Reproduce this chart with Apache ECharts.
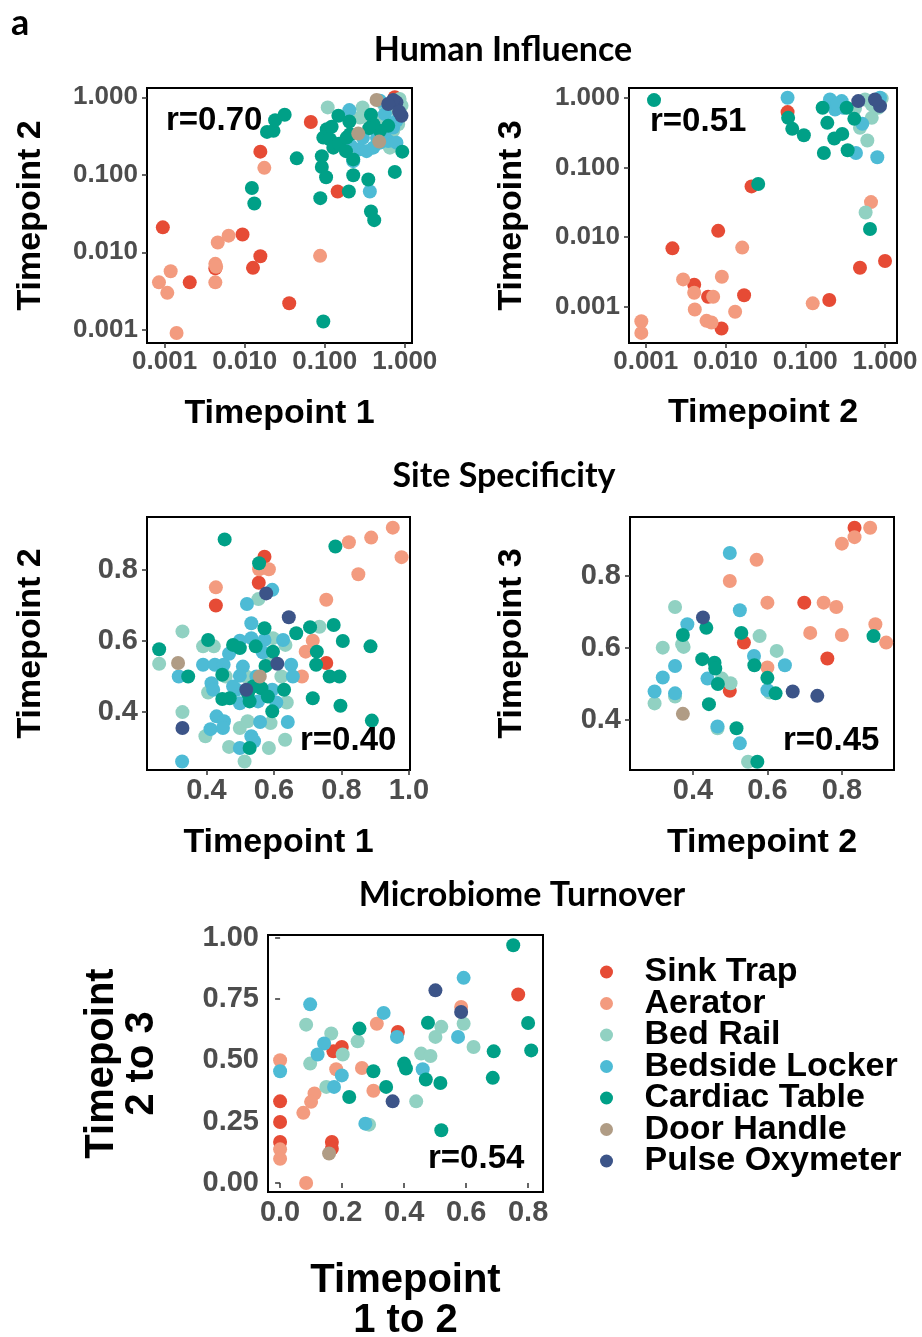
<!DOCTYPE html>
<html><head><meta charset="utf-8">
<script src="https://cdn.jsdelivr.net/npm/echarts@6/dist/echarts.min.js"></script>
<style>html,body{margin:0;padding:0;background:#fff}#chart{width:922px;height:1337px}</style>
</head><body><div id="chart"></div>
<script>
// ---------- DATA ----------
const groups = ['Sink Trap','Aerator','Bed Rail','Bedside Locker','Cardiac Table','Door Handle','Pulse Oxymeter'];
const groupColors = ['#E64B35','#F39B7F','#91D1C2','#4DBBD5','#00A087','#B09C85','#3C5488'];
const sectionTitles = ['Human Influence','Site Specificity','Microbiome Turnover'];
const xNames = ['Timepoint 1','Timepoint 2','Timepoint 1','Timepoint 2','Timepoint\n1 to 2'];
const yNames = ['Timepoint 2','Timepoint 3','Timepoint 2','Timepoint 3','Timepoint\n2 to 3'];
const rLabels = ['r=0.70','r=0.51','r=0.40','r=0.45','r=0.54'];
const logTicks = [0.001, 0.01, 0.1, 1];
const siteTicksX = [0.4, 0.6, 0.8, 1.0];
const siteTicksY = [0.4, 0.6, 0.8];
const turnoverTicksX = [0, 0.2, 0.4, 0.6, 0.8];
const turnoverTicksY = [0, 0.25, 0.5, 0.75, 1];

// Human Influence: Timepoint 1 vs Timepoint 2 (one list per group, in groups order)
const humanT1T2 = [
  [[0.00095,0.021],[0.00206,0.0041],[0.0043,0.0062],[0.0094,0.017],[0.0127,0.0063],[0.0157,0.0089],[0.036,0.0022],[0.145,0.061],[0.0157,0.199],[0.067,0.48],[0.75,1.0]],
  [[0.00119,0.0057],[0.00085,0.0041],[0.00108,0.0030],[0.00141,0.00091],[0.00461,0.0134],[0.0063,0.0164],[0.0043,0.0071],[0.0044,0.0065],[0.0043,0.0041],[0.0875,0.0090],[0.0176,0.123]],
  [[0.109,0.741],[0.297,0.741],[0.366,0.549],[0.466,0.523],[0.275,0.549],[0.716,0.369],[0.651,0.224],[0.910,0.779],[0.826,0.450],[0.55,0.8],[0.62,0.7],[0.86,0.95]],
  [[0.366,0.061],[0.227,0.150],[0.275,0.213],[0.213,0.235],[0.333,0.202],[0.404,0.224],[0.489,0.260],[0.621,0.273],[0.787,0.260],[0.203,0.684],[0.564,0.607],[0.716,0.407],[0.787,0.497],[0.489,0.905],[0.3,0.3],[0.45,0.3],[0.56,0.35],[0.68,0.45]],
  [[0.096,0.00128],[0.088,0.050],[0.0123,0.0676],[0.0132,0.0427],[0.0447,0.163],[0.019,0.358],[0.0229,0.369],[0.024,0.507],[0.0316,0.595],[0.092,0.174],[0.092,0.126],[0.104,0.093],[0.20,0.061],[0.227,0.0986],[0.35,0.087],[0.378,0.0336],[0.415,0.026],[0.75,0.109],[0.93,0.199],[0.106,0.388],[0.122,0.416],[0.096,0.302],[0.116,0.287],[0.128,0.224],[0.151,0.252],[0.188,0.302],[0.207,0.333],[0.184,0.202],[0.227,0.158],[0.148,0.578],[0.203,0.488],[0.378,0.595],[0.621,0.428],[0.489,0.369],[0.404,0.450],[0.36,0.4]],
  [[0.262,0.340],[0.479,0.268],[0.444,0.923]],
  [[0.910,0.578],[0.787,0.861],[0.716,0.923],[0.621,0.819],[0.85,0.65]]
];
// Human Influence: Timepoint 2 vs Timepoint 3
const humanT2T3 = [
  [[0.060,0.622],[0.0212,0.0534],[0.0081,0.0123],[0.00216,0.0069],[0.485,0.00364],[1.0,0.00454],[0.00405,0.00207],[0.00605,0.00139],[0.0171,0.00146],[0.00891,0.000487],[0.20,0.00125]],
  [[0.667,0.0318],[0.0162,0.00707],[0.00294,0.00247],[0.00405,0.00159],[0.0070,0.00139],[0.0090,0.0027],[0.00412,0.000915],[0.0132,0.000847],[0.00578,0.000628],[0.00667,0.000594],[0.00088,0.00062],[0.00088,0.000422],[0.124,0.00112]],
  [[0.571,0.0225],[0.60,0.243],[0.485,0.370],[0.42,0.702],[0.561,0.946],[0.681,0.515],[0.824,0.718],[0.908,0.978],[0.681,0.80]],
  [[0.060,1.0],[0.432,0.161],[0.80,0.140],[0.519,0.422],[0.204,0.946],[0.236,0.679],[0.286,0.895],[0.30,0.718],[0.25,0.80],[0.865,1.0]],
  [[0.00127,0.925],[0.061,0.515],[0.0687,0.358],[0.096,0.290],[0.165,0.718],[0.189,0.436],[0.171,0.161],[0.231,0.26],[0.291,0.303],[0.340,0.176],[0.412,0.498],[0.33,0.718],[0.0257,0.0577],[0.648,0.0131]],
  [],
  [[0.865,0.759],[0.462,0.895],[0.748,0.946]]
];
// Site Specificity: Timepoint 1 vs Timepoint 2
const siteT1T2 = [
  [[0.572,0.837],[0.555,0.764],[0.428,0.70],[0.755,0.538]],
  [[0.822,0.878],[0.888,0.891],[0.952,0.919],[0.978,0.836],[0.850,0.788],[0.755,0.716],[0.556,0.802],[0.585,0.802],[0.428,0.751],[0.715,0.601],[0.694,0.57],[0.683,0.50]],
  [[0.554,0.718],[0.329,0.627],[0.260,0.536],[0.735,0.64],[0.633,0.322],[0.329,0.40],[0.513,0.261],[0.585,0.299],[0.467,0.302],[0.397,0.332],[0.499,0.355],[0.522,0.374],[0.590,0.369],[0.390,0.585],[0.422,0.585],[0.457,0.50],[0.405,0.455],[0.597,0.608],[0.592,0.547],[0.634,0.589],[0.622,0.50],[0.638,0.427],[0.518,0.50]],
  [[0.595,0.744],[0.520,0.704],[0.318,0.50],[0.328,0.261],[0.499,0.299],[0.412,0.352],[0.43,0.388],[0.452,0.374],[0.449,0.355],[0.533,0.332],[0.541,0.318],[0.559,0.372],[0.641,0.372],[0.390,0.533],[0.425,0.533],[0.451,0.533],[0.415,0.481],[0.420,0.463],[0.467,0.564],[0.499,0.601],[0.533,0.608],[0.572,0.603],[0.533,0.650],[0.567,0.568],[0.627,0.603],[0.651,0.533],[0.656,0.50],[0.607,0.427],[0.548,0.50],[0.508,0.528],[0.499,0.502],[0.489,0.463],[0.479,0.472],[0.553,0.430],[0.499,0.425],[0.595,0.463]],
  [[0.454,0.886],[0.782,0.866],[0.556,0.819],[0.260,0.577],[0.346,0.50],[0.886,0.585],[0.804,0.60],[0.777,0.645],[0.707,0.639],[0.666,0.622],[0.727,0.57],[0.725,0.533],[0.765,0.50],[0.794,0.50],[0.715,0.439],[0.797,0.418],[0.890,0.376],[0.528,0.299],[0.595,0.402],[0.405,0.603],[0.447,0.505],[0.447,0.437],[0.479,0.589],[0.499,0.580],[0.546,0.585],[0.572,0.636],[0.597,0.570],[0.630,0.463],[0.575,0.530],[0.538,0.472],[0.523,0.453],[0.563,0.467],[0.528,0.430],[0.582,0.444],[0.469,0.439]],
  [[0.316,0.538],[0.558,0.50]],
  [[0.577,0.734],[0.644,0.667],[0.329,0.355],[0.610,0.536],[0.518,0.463]]
];
// Site Specificity: Timepoint 2 vs Timepoint 3
const siteT2T3 = [
  [[0.834,0.934],[0.699,0.726],[0.537,0.615],[0.499,0.481],[0.761,0.571]],
  [[0.876,0.934],[0.834,0.908],[0.80,0.890],[0.571,0.845],[0.499,0.786],[0.60,0.726],[0.751,0.726],[0.785,0.714],[0.715,0.642],[0.890,0.666],[0.80,0.636],[0.919,0.615],[0.60,0.546]],
  [[0.352,0.714],[0.579,0.633],[0.319,0.601],[0.375,0.603],[0.371,0.610],[0.352,0.465],[0.297,0.446],[0.478,0.515],[0.501,0.502],[0.625,0.592],[0.606,0.476],[0.466,0.377],[0.548,0.284]],
  [[0.499,0.864],[0.526,0.705],[0.385,0.666],[0.352,0.550],[0.319,0.518],[0.297,0.479],[0.352,0.474],[0.439,0.515],[0.564,0.578],[0.647,0.552],[0.60,0.483],[0.466,0.382],[0.526,0.335]],
  [[0.436,0.656],[0.373,0.636],[0.530,0.642],[0.885,0.633],[0.425,0.569],[0.458,0.559],[0.460,0.543],[0.467,0.50],[0.443,0.444],[0.565,0.552],[0.60,0.517],[0.622,0.474],[0.517,0.377],[0.573,0.284]],
  [[0.373,0.417]],
  [[0.427,0.685],[0.668,0.479],[0.734,0.467]]
];
// Microbiome Turnover: Timepoint 1 to 2 vs Timepoint 2 to 3
const turnover = [
  [[0.768,0.769],[0.38,0.616],[0.199,0.555],[0.172,0.537],[0,0.333],[0,0.249],[0,0.167],[0.167,0.167],[0.167,0.140]],
  [[0.584,0.718],[0.312,0.650],[0,0.501],[0.181,0.464],[0.264,0.469],[0.301,0.376],[0.111,0.365],[0.100,0.331],[0.075,0.286],[0,0.137],[0,0.099],[0.084,0]],
  [[0.084,0.646],[0.520,0.637],[0.592,0.650],[0.165,0.610],[0.501,0.596],[0.250,0.578],[0.202,0.524],[0.624,0.555],[0.455,0.528],[0.485,0.518],[0.097,0.487],[0.149,0.392],[0.439,0.333],[0.287,0.238]],
  [[0.592,0.837],[0.097,0.729],[0.334,0.694],[0.377,0.596],[0.574,0.596],[0.142,0.569],[0.121,0.524],[0,0.456],[0.199,0.439],[0.460,0.464],[0.174,0.392],[0.275,0.242]],
  [[0.752,0.970],[0.256,0.630],[0.477,0.654],[0.80,0.653],[0.689,0.537],[0.810,0.541],[0.40,0.487],[0.406,0.467],[0.301,0.456],[0.470,0.422],[0.517,0.408],[0.686,0.429],[0.342,0.392],[0.223,0.351],[0.520,0.215]],
  [[0.158,0.120]],
  [[0.501,0.786],[0.584,0.698],[0.363,0.333]]
];

// ---------- LAYOUT ----------
const SANS = "'Liberation Sans', Arial, Helvetica, sans-serif";
const HEAD = "Lato, 'Noto Sans', sans-serif";
const panels = [
  {data: humanT1T2, grid:[147,88,265,255], log:true, xr:[-3.22,0.09], yr:[-3.17,0.12], xt:logTicks, yt:logTicks, xd:3, yd:3, tf:26, nf:34, lh:36, xGap:53, yGap:98, rPos:[166,123]},
  {data: humanT2T3, grid:[629,88,268,255], log:true, xr:[-3.21,0.15], yr:[-3.52,0.14], xt:logTicks, yt:logTicks, xd:3, yd:3, tf:26, nf:34, lh:36, xGap:52, yGap:99, rPos:[650,124]},
  {data: siteT1T2, grid:[147,517,263,253], log:false, xr:[0.224,1.003], yr:[0.237,0.949], xt:siteTicksX, yt:siteTicksY, xd:1, yd:1, tf:29, nf:34, lh:36, xGap:55, yGap:98, rPos:[300,743]},
  {data: siteT2T3, grid:[630,517,264,253], log:false, xr:[0.231,0.94], yr:[0.261,0.964], xt:siteTicksX, yt:siteTicksY, xd:1, yd:1, tf:29, nf:34, lh:36, xGap:55, yGap:100, rPos:[783,743]},
  {data: turnover, grid:[268,935,275,257], log:false, xr:[-0.039,0.848], yr:[-0.037,1.012], xt:turnoverTicksX, yt:turnoverTicksY, xd:1, yd:2, tf:29, nf:40, lh:40, xGap:69, yGap:106, rPos:[428,1161]}
];

function makeAxis(p, i, isX) {
  const r = isX ? p.xr : p.yr;
  const ticks = isX ? p.xt : p.yt;
  const d = isX ? p.xd : p.yd;
  return {
    gridIndex: i,
    type: p.log ? 'log' : 'value',
    logBase: 10,
    min: p.log ? Math.pow(10, r[0]) : r[0],
    max: p.log ? Math.pow(10, r[1]) : r[1],
    axisLine: {show: false},
    splitLine: {show: false},
    axisTick: {show: true, length: 5, customValues: ticks, lineStyle: {color: '#333', width: 1.5}},
    axisLabel: {
      customValues: ticks, hideOverlap: false, showMinLabel: true, showMaxLabel: true,
      margin: isX ? 6 : 9, color: '#4D4D4D', fontSize: p.tf, fontWeight: 'bold', fontFamily: SANS,
      formatter: v => Number(v).toFixed(d)
    },
    name: isX ? xNames[i] : yNames[i],
    nameLocation: 'middle',
    nameGap: isX ? p.xGap : p.yGap,
    nameTextStyle: {fontSize: p.nf, fontWeight: 'bold', color: '#000', fontFamily: SANS, lineHeight: p.lh}
  };
}

const grids = [], xAxes = [], yAxes = [], series = [], graphics = [];
panels.forEach((p, i) => {
  grids.push({left: p.grid[0], top: p.grid[1], width: p.grid[2], height: p.grid[3],
    show: true, borderColor: '#000', borderWidth: 2, backgroundColor: 'transparent',
    containLabel: false, outerBoundsMode: 'none'});
  xAxes.push(makeAxis(p, i, true));
  yAxes.push(makeAxis(p, i, false));
  groups.forEach((g, gi) => {
    series.push({type: 'scatter', name: g, xAxisIndex: i, yAxisIndex: i, data: p.data[gi],
      symbol: 'circle', symbolSize: 14, itemStyle: {color: groupColors[gi], opacity: 1},
      emphasis: {disabled: true}, silent: true});
  });
  graphics.push({type: 'text', z: 100, left: p.rPos[0], top: p.rPos[1] - 19,
    style: {text: rLabels[i], font: 'bold 33px ' + SANS, fill: '#000'}});
});

const titlePos = [[503,50],[504,476],[522,895]];
sectionTitles.forEach((t, i) => {
  graphics.push({type: 'text', z: 100, x: titlePos[i][0], y: titlePos[i][1],
    style: {text: t, font: 'bold 34px ' + HEAD, fill: '#000', align: 'center', verticalAlign: 'middle'}});
});
graphics.push({type: 'text', z: 100, x: 11, y: 23,
  style: {text: 'a', font: 'bold 36px ' + HEAD, fill: '#000', align: 'left', verticalAlign: 'middle'}});

const chart = echarts.init(document.getElementById('chart'), null, {renderer: 'canvas'});
chart.setOption({
  animation: false,
  backgroundColor: '#fff',
  grid: grids,
  xAxis: xAxes,
  yAxis: yAxes,
  series: series,
  graphic: graphics,
  legend: {
    orient: 'vertical', left: 600, top: 955, padding: 0,
    itemWidth: 66, itemHeight: 13, itemGap: -2.5, icon: 'circle',
    selectedMode: false, data: groups,
    textStyle: {fontSize: 34, fontWeight: 'bold', color: '#000', fontFamily: SANS}
  }
});
</script></body></html>
